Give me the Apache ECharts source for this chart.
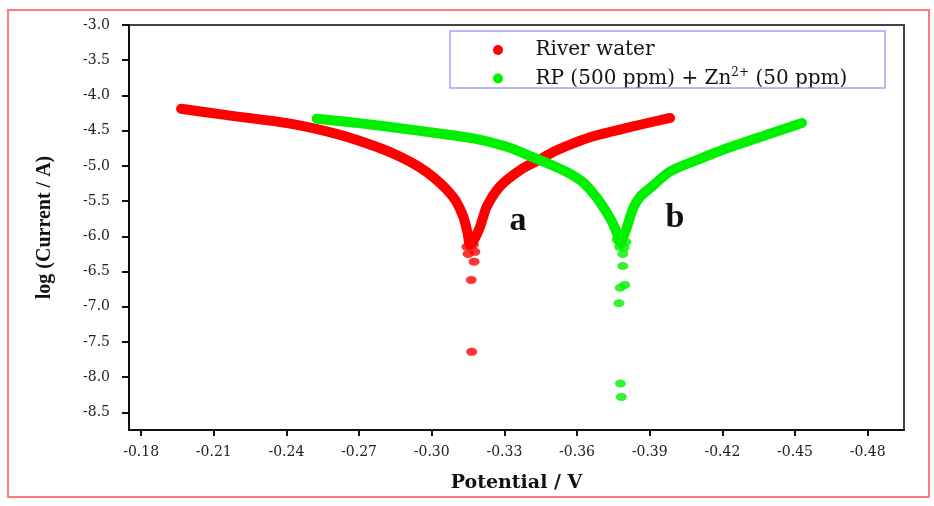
<!DOCTYPE html>
<html>
<head>
<meta charset="utf-8">
<script src="https://cdn.jsdelivr.net/npm/echarts@6/dist/echarts.min.js"></script>
<style>html,body{margin:0;padding:0;background:#fff}#c{width:934px;height:506px}</style>
</head>
<body>
<div id="c"></div>
<script>
// Potential (V) vs log(Current / A)
var seriesNames = ['River water', 'RP (500 ppm) + Zn2+ (50 ppm)'];
var riverCurve = [
  [-0.1965,-4.19],[-0.2154,-4.28],[-0.2415,-4.40],[-0.2622,-4.56],[-0.2780,-4.74],
  [-0.2870,-4.87],[-0.2950,-5.02],[-0.3010,-5.17],[-0.3060,-5.33],[-0.3100,-5.50],
  [-0.3130,-5.72],[-0.3148,-5.95],[-0.3158,-6.12],
  [-0.3175,-6.05],[-0.3200,-5.86],[-0.3227,-5.58],[-0.3282,-5.29],[-0.3365,-5.06],
  [-0.3440,-4.92],[-0.3516,-4.78],[-0.3584,-4.68],[-0.3667,-4.58],[-0.3805,-4.46],
  [-0.3984,-4.32]
];
var riverDots = [
  [-0.3145,-6.15],[-0.3172,-6.12],[-0.3150,-6.25],[-0.3178,-6.22],[-0.3175,-6.36],
  [-0.3163,-6.62],[-0.3165,-7.64]
];
var inhibCurve = [
  [-0.2525,-4.33],[-0.2691,-4.39],[-0.2966,-4.51],[-0.3172,-4.61],[-0.3310,-4.73],
  [-0.3434,-4.90],[-0.3530,-5.04],[-0.3580,-5.13],[-0.3630,-5.25],[-0.3681,-5.45],
  [-0.3736,-5.74],[-0.3764,-5.95],[-0.3778,-6.09],
  [-0.3798,-5.95],[-0.3832,-5.60],[-0.3860,-5.44],[-0.3900,-5.32],[-0.3984,-5.08],
  [-0.4100,-4.91],[-0.4203,-4.77],[-0.4409,-4.53],[-0.4529,-4.39]
];
var inhibDots = [
  [-0.3765,-6.05],[-0.3802,-6.08],[-0.3775,-6.15],[-0.3795,-6.16],[-0.3789,-6.25],
  [-0.3789,-6.42],[-0.3778,-6.73],[-0.3797,-6.69],[-0.3773,-6.95],[-0.3779,-8.09],
  [-0.3783,-8.28]
];
var xTicks = [-0.18,-0.21,-0.24,-0.27,-0.30,-0.33,-0.36,-0.39,-0.42,-0.45,-0.48];
var yTicks = [-3.0,-3.5,-4.0,-4.5,-5.0,-5.5,-6.0,-6.5,-7.0,-7.5,-8.0,-8.5];
var curveLabels = ['a', 'b'];

var RED = '#ff0000', GREEN = '#00f000';
var chart = echarts.init(document.getElementById('c'), null, {renderer: 'canvas'});
var tickFont = {fontFamily: 'DejaVu Serif', fontSize: 14, color: '#222'};

function lineSeries(name, data, color) {
  return {
    name: name, type: 'line', data: data, showSymbol: false, symbol: 'none',
    smooth: 0.25, itemStyle: {color: color},
    lineStyle: {color: color, width: 10, cap: 'round', join: 'round'},
    animation: false
  };
}
function dotSeries(name, data, color) {
  return {
    name: name, type: 'scatter', data: data, symbol: 'circle', symbolSize: [11, 8],
    itemStyle: {color: color}, animation: false
  };
}

chart.setOption({
  backgroundColor: '#fff',
  animation: false,
  grid: {left: 129, top: 25, right: 30, bottom: 76, show: true, borderColor: '#444', borderWidth: 2, backgroundColor: 'transparent'},
  xAxis: {
    type: 'value', inverse: true, min: -0.495, max: -0.175,
    name: 'Potential / V', nameLocation: 'middle', nameGap: 44,
    nameTextStyle: {fontFamily: 'DejaVu Serif', fontWeight: 'bold', fontSize: 19, color: '#111'},
    axisLine: {show: true, lineStyle: {color: '#111', width: 2}},
    axisTick: {show: true, length: 6, lineStyle: {color: '#111', width: 2}, customValues: xTicks},
    axisLabel: Object.assign({margin: 15, customValues: xTicks, formatter: function (v) { return v.toFixed(2); }}, tickFont),
    splitLine: {show: false}
  },
  yAxis: {
    type: 'value', min: -8.75, max: -3.0,
    name: 'log (Current / A)', nameLocation: 'middle', nameGap: 74,
    nameTextStyle: {fontFamily: 'Liberation Serif', fontWeight: 'bold', fontSize: 20, color: '#111'},
    axisLine: {show: true, lineStyle: {color: '#111', width: 2}},
    axisTick: {show: true, length: 7, lineStyle: {color: '#111', width: 2}, customValues: yTicks},
    axisLabel: Object.assign({margin: 19, customValues: yTicks, formatter: function (v) { return v.toFixed(1); }}, tickFont),
    splitLine: {show: false}
  },
  legend: {
    orient: 'vertical', left: 488, top: 35, icon: 'circle',
    itemWidth: 13, itemHeight: 10, itemGap: 7,
    data: seriesNames,
    formatter: function (n) {
      if (n.indexOf('Zn2+') >= 0) return '{n|RP (500 ppm) + Zn}{s|2+}{n| (50 ppm)}';
      return '{n|' + n + '}';
    },
    textStyle: {
      padding: [0, 0, 0, 26],
      rich: {
        n: {fontFamily: 'DejaVu Serif', fontSize: 20, color: '#111', lineHeight: 23},
        s: {fontFamily: 'DejaVu Serif', fontSize: 12, color: '#111', lineHeight: 12, verticalAlign: 'top'}
      }
    }
  },
  graphic: [
    {type: 'rect', silent: true, z: -10, shape: {x: 8, y: 10, width: 921, height: 487}, style: {fill: 'none', stroke: '#ff7a7a', lineWidth: 2}},
    {type: 'rect', silent: true, z: 5, shape: {x: 450, y: 31, width: 435, height: 57}, style: {fill: 'none', stroke: '#a5a5f0', lineWidth: 1.5}},
    {type: 'text', silent: true, z: 10, x: 518, y: 221, style: {text: curveLabels[0], font: 'bold 34px "Liberation Serif"', fill: '#111', align: 'center', verticalAlign: 'middle'}},
    {type: 'text', silent: true, z: 10, x: 675, y: 218, style: {text: curveLabels[1], font: 'bold 34px "Liberation Serif"', fill: '#111', align: 'center', verticalAlign: 'middle'}}
  ],
  series: [
    lineSeries(seriesNames[0], riverCurve, RED),
    dotSeries(seriesNames[0], riverDots, RED),
    lineSeries(seriesNames[1], inhibCurve, GREEN),
    dotSeries(seriesNames[1], inhibDots, GREEN)
  ]
});
</script>
</body>
</html>
